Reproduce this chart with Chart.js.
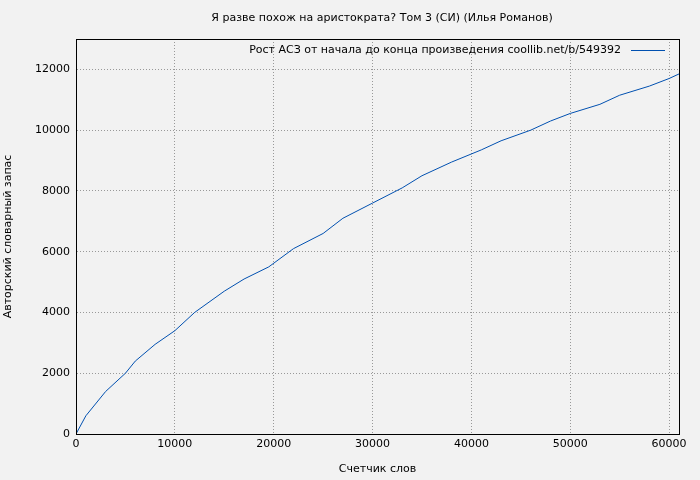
<!DOCTYPE html>
<html><head><meta charset="utf-8">
<script src="https://cdn.jsdelivr.net/npm/chart.js@4"></script>
<style>html,body{margin:0;background:#f2f2f2}#c{display:block}</style>
</head><body>
<div style="width:700px;height:480px"><canvas id="c"></canvas></div>
<script>
const slova = [0, 1000, 3000, 5000, 6000, 8000, 10000, 12000, 15000, 17000, 19500, 22000, 25000, 27000, 30000, 33000, 35000, 38000, 41000, 43000, 46000, 48000, 50000, 53000, 55000, 58000, 60000, 61000];
const zapas = [0, 600, 1400, 2000, 2400, 2950, 3400, 4000, 4700, 5100, 5500, 6100, 6600, 7100, 7600, 8100, 8500, 8950, 9350, 9650, 10000, 10300, 10550, 10850, 11150, 11450, 11700, 11850];
const xTicks = [0, 10000, 20000, 30000, 40000, 50000, 60000];
const yTicks = [0, 2000, 4000, 6000, 8000, 10000, 12000];
const title = "Я разве похож на аристократа? Том 3 (СИ) (Илья Романов)";
const legendText = "Рост АСЗ от начала до конца произведения coollib.net/b/549392";
const font = "DejaVu Sans";

const extras = {
  id: "extras",
  afterDraw(chart) {
    const ctx = chart.ctx, a = chart.chartArea;
    ctx.save();
    ctx.strokeStyle = "#000"; ctx.lineWidth = 1;
    ctx.strokeRect(a.left + 0.5, a.top + 0.5, a.right - a.left, a.bottom - a.top);
    ctx.fillStyle = "#000"; ctx.font = "11px '" + font + "'";
    ctx.textAlign = "center"; ctx.textBaseline = "middle";
    ctx.fillText(title, 382, 18);
    ctx.textAlign = "right";
    ctx.fillText(legendText, 621, 50);
    ctx.strokeStyle = "#0050b0";
    ctx.beginPath(); ctx.moveTo(631, 50.5); ctx.lineTo(665, 50.5); ctx.stroke();
    ctx.restore();
  }
};

new Chart(document.getElementById("c"), {
  type: "line",
  data: {
    datasets: [{
      data: slova.map((x, i) => ({ x: x, y: zapas[i] })),
      borderColor: "#0050b0", borderWidth: 1, pointRadius: 0, tension: 0, fill: false
    }]
  },
  options: {
    responsive: true, maintainAspectRatio: false, animation: false,
    layout: { padding: { top: 39, right: 21, left: 0, bottom: 0 } },
    plugins: { legend: { display: false }, tooltip: { enabled: false } },
    scales: {
      x: {
        type: "linear", min: 0, max: 61000,
        afterBuildTicks(s) { s.ticks = xTicks.map(v => ({ value: v })); },
        ticks: { color: "#000", font: { family: font, size: 11 }, maxRotation: 0, autoSkip: false,
          callback: v => String(v), padding: 4 },
        grid: { color: "#999", drawTicks: false },
        border: { dash: [1, 2] },
        title: { display: true, text: "Счетчик слов", color: "#000", font: { family: font, size: 11 }, padding: { top: 6 } },
        afterFit(s) { s.height = 46; }
      },
      y: {
        min: 0, max: 13000,
        afterBuildTicks(s) { s.ticks = yTicks.map(v => ({ value: v })); },
        ticks: { color: "#000", font: { family: font, size: 11 }, autoSkip: false,
          callback: v => String(v), padding: 6 },
        grid: { color: "#999", drawTicks: false },
        border: { dash: [1, 2] },
        title: { display: true, text: "Авторский словарный запас", color: "#000", font: { family: font, size: 11 }, padding: 2 },
        afterFit(s) { s.width = 76; }
      }
    }
  },
  plugins: [extras]
});
</script>
</body></html>
